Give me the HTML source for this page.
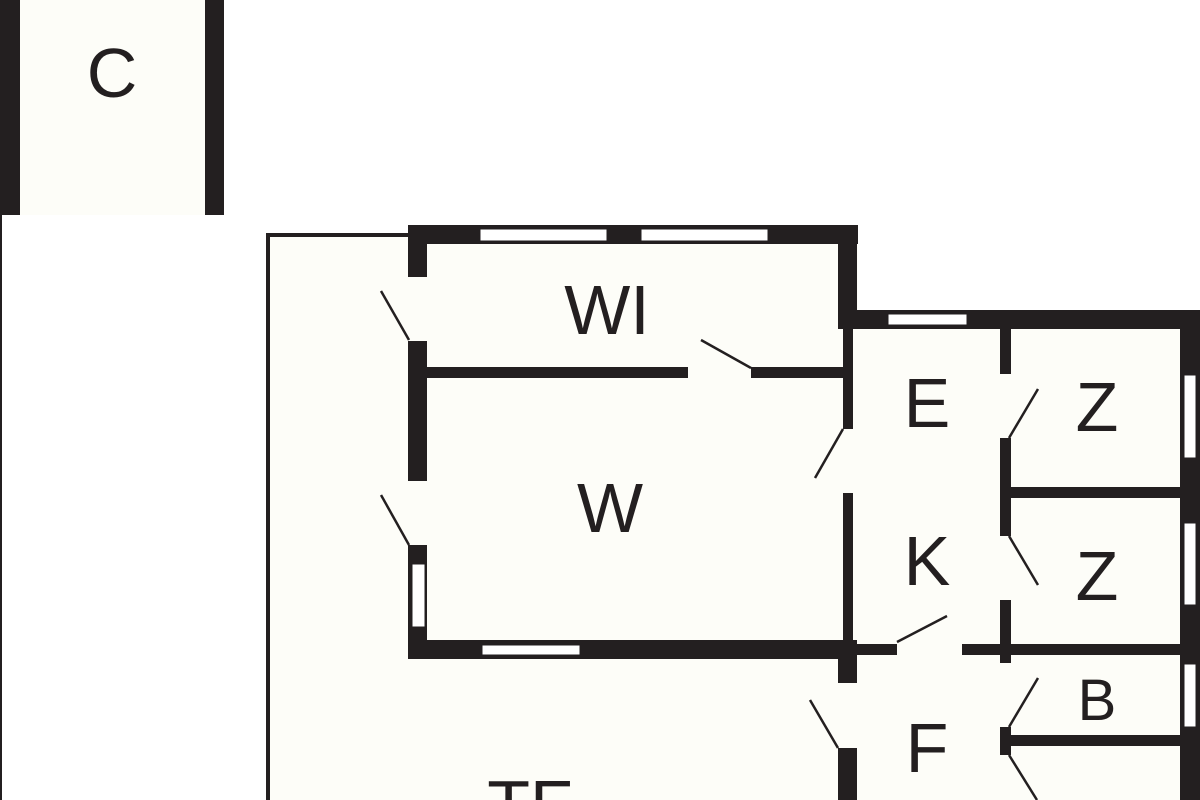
<!DOCTYPE html>
<html><head><style>html,body{margin:0;padding:0;width:1200px;height:800px;overflow:hidden;background:#fff}svg{display:block;overflow:hidden}text{font-family:"Liberation Sans",sans-serif;fill:#231f20;text-anchor:middle}</style></head><body>
<svg width="1200" height="800" viewBox="0 0 1200 800">
<rect width="1200" height="800" fill="#fff"/>
<rect x="20" y="0" width="185" height="215" fill="#fdfdf8"/>
<rect x="268" y="236" width="590" height="564" fill="#fdfdf8"/>
<rect x="408" y="226" width="450" height="440" fill="#fdfdf8"/>
<rect x="838" y="310" width="362" height="490" fill="#fdfdf8"/>
<g fill="#231f20">
<rect x="0" y="0" width="2" height="800"/>
<rect x="2" y="0" width="18" height="215"/>
<rect x="205" y="0" width="19" height="215"/>
<rect x="266" y="233" width="144" height="4"/>
<rect x="266" y="233" width="4" height="567"/>
<rect x="408" y="225" width="450" height="19"/>
<rect x="408" y="225" width="19" height="52"/>
<rect x="408" y="341" width="19" height="140"/>
<rect x="408" y="545" width="19" height="114"/>
<rect x="427" y="367" width="261" height="11"/>
<rect x="751" y="367" width="92" height="11"/>
<rect x="838" y="225" width="19" height="104"/>
<rect x="843" y="329" width="10" height="100"/>
<rect x="843" y="493" width="10" height="150"/>
<rect x="408" y="640" width="449" height="19"/>
<rect x="838" y="310" width="362" height="19"/>
<rect x="1180" y="310" width="20" height="490"/>
<rect x="1000" y="329" width="11" height="45"/>
<rect x="1000" y="438" width="11" height="98"/>
<rect x="1000" y="600" width="11" height="63"/>
<rect x="1000" y="727" width="11" height="28"/>
<rect x="1011" y="487" width="169" height="11"/>
<rect x="853" y="644" width="44" height="11"/>
<rect x="962" y="644" width="218" height="11"/>
<rect x="1011" y="735" width="169" height="11"/>
<rect x="838" y="655" width="19" height="28"/>
<rect x="838" y="748" width="19" height="52"/>
</g>
<g fill="#fff" stroke="#231f20" stroke-width="1">
<rect x="480" y="229" width="127" height="12"/>
<rect x="641" y="229" width="127" height="12"/>
<rect x="412" y="564" width="13" height="63"/>
<rect x="482" y="645" width="98" height="10"/>
<rect x="888" y="314" width="79" height="11"/>
<rect x="1184" y="375" width="12" height="83"/>
<rect x="1184" y="523" width="12" height="82"/>
<rect x="1184" y="664" width="12" height="63"/>
</g>
<g stroke="#231f20" stroke-width="2.5">
<line x1="381" y1="291" x2="409" y2="340"/>
<line x1="381" y1="495" x2="409" y2="545"/>
<line x1="701" y1="340" x2="751" y2="368"/>
<line x1="815" y1="478" x2="843" y2="429"/>
<line x1="1038" y1="389" x2="1009" y2="438"/>
<line x1="1009" y1="536" x2="1038" y2="585"/>
<line x1="897" y1="642" x2="947" y2="616"/>
<line x1="1038" y1="678" x2="1009" y2="727"/>
<line x1="1009" y1="755" x2="1037" y2="800"/>
<line x1="810" y1="700" x2="838" y2="748"/>
</g>
<text x="112" y="97" font-size="70">C</text>
<text x="607" y="334" font-size="70">WI</text>
<text x="610" y="532" font-size="70">W</text>
<text x="927" y="427" font-size="70">E</text>
<text x="1097" y="431" font-size="70">Z</text>
<text x="927" y="585" font-size="70">K</text>
<text x="1097" y="600" font-size="70">Z</text>
<text x="1097" y="720" font-size="58">B</text>
<text x="927" y="772" font-size="70">F</text>
<text x="530" y="829" font-size="70">TF</text>
</svg>
</body></html>
